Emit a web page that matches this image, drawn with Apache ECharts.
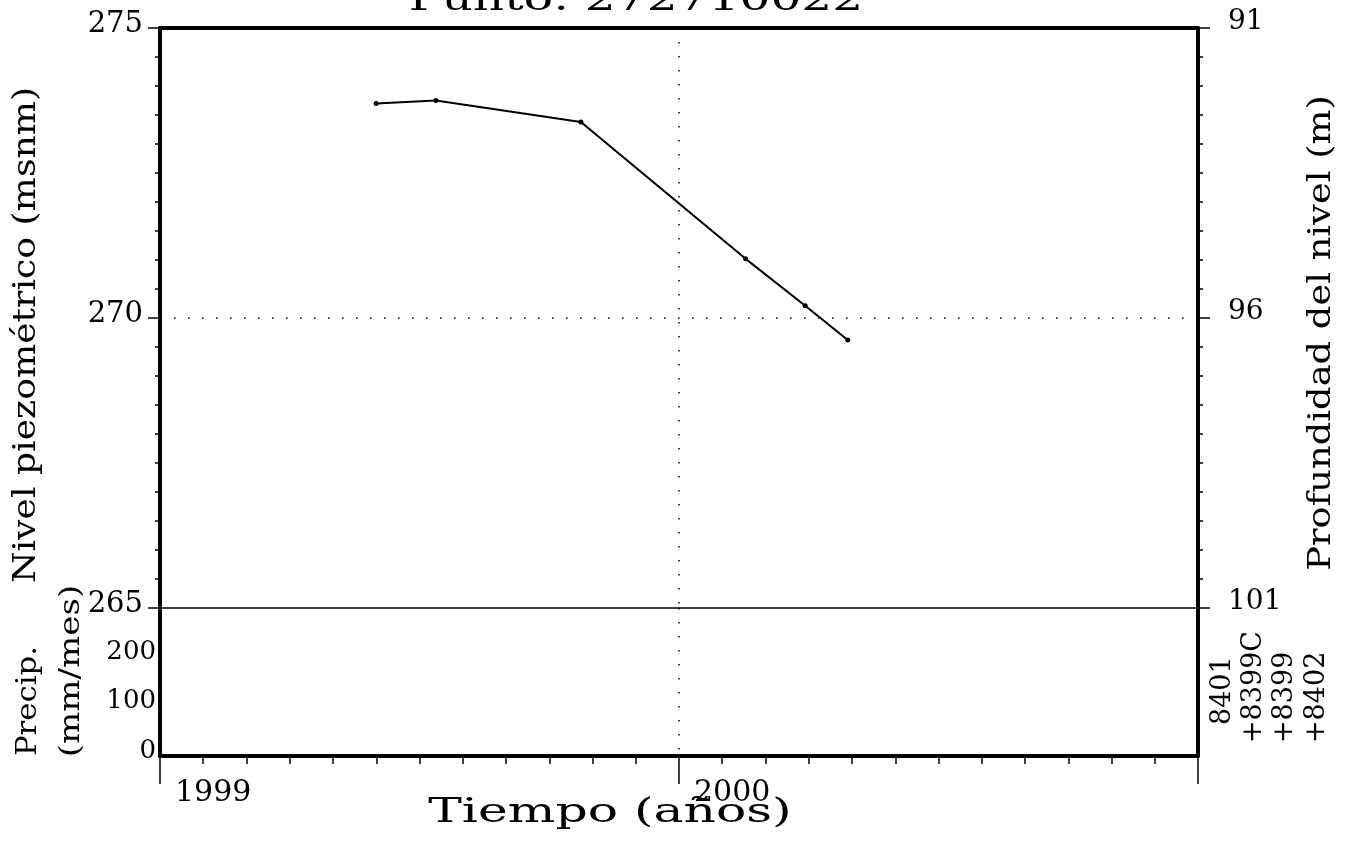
<!DOCTYPE html>
<html>
<head>
<meta charset="utf-8">
<script src="https://cdn.jsdelivr.net/npm/echarts@6/dist/echarts.min.js"></script>
<style>
html,body{margin:0;padding:0;background:#fff;}
#chart{width:1349px;height:852px;}
</style>
</head>
<body>
<div id="chart"></div>
<script>
// ---- data ----
const fechas = ['1999-06-02', '1999-07-14', '1999-10-24', '2000-02-17', '2000-03-30', '2000-04-29'];
const nivel = [273.70, 273.75, 273.38, 271.02, 270.21, 269.62];
const yearTicks = [1999, 2000, 2001];
const nivelTicks = [265, 270, 275];
const profTicks = [91, 96, 101];
const precipTicks = [0, 100, 200, 300];
const estaciones = ['8401', '+8399C', '+8399', '+8402'];
const titulo = 'Punto: 272710022';

function decYear(s) {
  const d = new Date(s + 'T00:00:00Z');
  const y = d.getUTCFullYear();
  const start = Date.UTC(y, 0, 1), end = Date.UTC(y + 1, 0, 1);
  return y + (d.getTime() - start) / (end - start);
}
const serie = fechas.map((f, i) => [decYear(f), nivel[i]]);

const FONT = 'DejaVu Serif';
const black = '#000';
const dotted = { color: '#111', width: 1.6, type: [1.6, 12.4] };

const chart = echarts.init(document.getElementById('chart'), null, { renderer: 'canvas' });

const G0 = { left: 160, right: 151, top: 28, height: 580 };
const G1 = { left: 160, right: 151, top: 608, height: 148 };

const option = {
  backgroundColor: '#fff',
  animation: false,
  grid: [G0, G1],
  xAxis: [
    { // top frame of main grid
      gridIndex: 0, type: 'value', position: 'top',
      min: yearTicks[0], max: yearTicks[2], interval: 1,
      axisLine: { show: true, lineStyle: { color: black, width: 4 } },
      axisTick: { show: false }, axisLabel: { show: false },
      splitLine: { show: true, showMinLine: false, showMaxLine: false, lineStyle: dotted }
    },
    { // separator line (265)
      gridIndex: 0, type: 'value', position: 'bottom',
      min: yearTicks[0], max: yearTicks[2], interval: 1,
      axisLine: { show: true, onZero: false, lineStyle: { color: black, width: 1.6 } },
      axisTick: { show: false }, axisLabel: { show: false }, splitLine: { show: false }
    },
    { // time axis
      gridIndex: 1, type: 'value', position: 'bottom',
      min: yearTicks[0], max: yearTicks[2], interval: 1,
      axisLine: { show: true, onZero: false, lineStyle: { color: black, width: 4 } },
      axisTick: { show: true, inside: false, length: 28, lineStyle: { color: black, width: 1.5 } },
      minorTick: { show: true, splitNumber: 12, length: 8, lineStyle: { color: black, width: 1.5 } },
      axisLabel: {
        show: true, margin: 22, align: 'left', padding: [0, 0, 0, 15],
        fontFamily: FONT, fontSize: 30, color: black, showMaxLabel: false,
        formatter: v => (yearTicks.indexOf(v) >= 0 && v < yearTicks[2]) ? String(v) : ''
      },
      splitLine: { show: true, showMinLine: false, showMaxLine: false, lineStyle: dotted }
    }
  ],
  yAxis: [
    { // nivel piezométrico
      gridIndex: 0, type: 'value', position: 'left',
      min: nivelTicks[0], max: nivelTicks[2], interval: 5,
      axisLine: { show: true, onZero: false, lineStyle: { color: black, width: 4 } },
      axisTick: { show: true, length: 12, lineStyle: { color: black, width: 1.5 } },
      minorTick: { show: true, splitNumber: 10, length: 5, lineStyle: { color: black, width: 1.5 } },
      axisLabel: { margin: 17, fontFamily: FONT, fontSize: 29, color: black, verticalAlign: 'bottom', lineHeight: 8 },
      splitLine: { show: true, showMinLine: false, showMaxLine: false, lineStyle: dotted }
    },
    { // profundidad
      gridIndex: 0, type: 'value', position: 'right', inverse: true,
      min: profTicks[0], max: profTicks[2], interval: 5,
      axisLine: { show: true, onZero: false, lineStyle: { color: black, width: 4 } },
      axisTick: { show: true, length: 12, lineStyle: { color: black, width: 1.5 } },
      minorTick: { show: true, splitNumber: 10, length: 5, lineStyle: { color: black, width: 1.5 } },
      axisLabel: { margin: 30, fontFamily: FONT, fontSize: 28, color: black, verticalAlign: 'bottom', lineHeight: 13 },
      splitLine: { show: false }
    },
    { // precipitación
      gridIndex: 1, type: 'value', position: 'left',
      min: precipTicks[0], max: precipTicks[3], interval: 100,
      axisLine: { show: true, onZero: false, lineStyle: { color: black, width: 4 } },
      axisTick: { show: false },
      axisLabel: {
        margin: 4, fontFamily: FONT, fontSize: 26, color: black, verticalAlign: 'bottom', lineHeight: 10,
        showMaxLabel: false, formatter: v => v === precipTicks[3] ? '' : String(v)
      },
      splitLine: { show: false }
    },
    { // right frame of precip grid
      gridIndex: 1, type: 'value', position: 'right',
      min: precipTicks[0], max: precipTicks[3], interval: 100,
      axisLine: { show: true, onZero: false, lineStyle: { color: black, width: 4 } },
      axisTick: { show: false }, axisLabel: { show: false }, splitLine: { show: false }
    }
  ],
  series: [
    {
      type: 'line', xAxisIndex: 0, yAxisIndex: 0,
      data: serie,
      symbol: 'circle', symbolSize: 5,
      itemStyle: { color: black },
      lineStyle: { color: black, width: 2 }
    }
  ],
  graphic: [
    { type: 'text', x: 636, y: 18, scaleX: 1.43,
      style: { text: titulo, font: '34px "DejaVu Serif"', fill: black, textAlign: 'center', textVerticalAlign: 'bottom' } },
    { type: 'text', x: 610, y: 813, scaleX: 1.48,
      style: { text: 'Tiempo (años)', font: '34px "DejaVu Serif"', fill: black, textAlign: 'center', textVerticalAlign: 'middle' } },
    { type: 'text', x: 27, y: 335, rotation: Math.PI / 2, scaleX: 1.13,
      style: { text: 'Nivel piezométrico (msnm)', font: '32px "DejaVu Serif"', fill: black, textAlign: 'center', textVerticalAlign: 'middle' } },
    { type: 'text', x: 29, y: 701, rotation: Math.PI / 2, scaleX: 1.14,
      style: { text: 'Precip.', font: '27px "DejaVu Serif"', fill: black, textAlign: 'center', textVerticalAlign: 'middle' } },
    { type: 'text', x: 72, y: 671, rotation: Math.PI / 2, scaleX: 1.26,
      style: { text: '(mm/mes)', font: '27px "DejaVu Serif"', fill: black, textAlign: 'center', textVerticalAlign: 'middle' } },
    { type: 'text', x: 1322, y: 333, rotation: Math.PI / 2, scaleX: 1.15,
      style: { text: 'Profundidad del nivel (m)', font: '32px "DejaVu Serif"', fill: black, textAlign: 'center', textVerticalAlign: 'middle' } }
  ].concat(estaciones.map((s, i) => ({
    type: 'text', x: [1223, 1254, 1285, 1317][i], y: [725, 743, 743, 743][i], rotation: Math.PI / 2,
    style: { text: s, font: '27px "DejaVu Serif"', fill: black, textAlign: 'left', textVerticalAlign: 'middle' }
  })))
};
chart.setOption(option);
</script>
</body>
</html>
